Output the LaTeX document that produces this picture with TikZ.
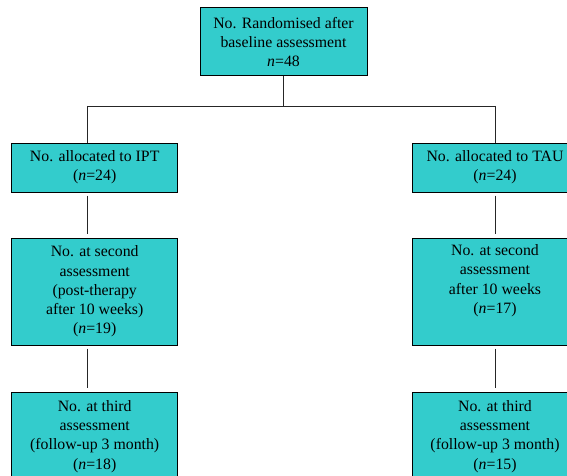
\documentclass[tikz,border=0pt]{standalone}
\usepackage{fontspec}
\setmainfont{Liberation Serif}
\definecolor{boxcyan}{RGB}{51,204,204}
\begin{document}
\begin{tikzpicture}[x=1pt,y=-1pt,
  box/.style={draw=black, line width=1pt, fill=boxcyan, inner sep=0pt, align=center,
    minimum width=166pt, font=\fontsize{15.8}{19.3}\selectfont},
  conn/.style={draw=black!85, line width=0.9pt}]
\useasboundingbox (0,0) rectangle (567,476);
\clip (0,0) rectangle (567,476);
% boxes
\node[box, minimum width=167pt, minimum height=68pt] (top) at (283.5,42)
  {No. Randomised after\\baseline assessment\\\textit{n}=48};
\node[box, minimum height=49pt] (ipt) at (94.7,167.5)
  {No. allocated to IPT\\(\textit{n}=24)};
\node[box, minimum height=49pt] (tau) at (495,167.5)
  {No. allocated to TAU\\(\textit{n}=24)};
\node[box, minimum height=107pt] (ipt2) at (94.7,291.5)
  {No. at second\\assessment\\(post-therapy\\after 10 weeks)\\(\textit{n}=19)};
\node[box, minimum height=107pt] (tau2) at (495,291.5)
  {No. at second\\assessment\\after 10 weeks\\(\textit{n}=17)\\\strut};
\node[box, minimum height=89pt] (ipt3) at (94.7,436.5)
  {No. at third\\assessment\\(follow-up 3 month)\\(\textit{n}=18)};
\node[box, minimum height=89pt] (tau3) at (495,436.5)
  {No. at third\\assessment\\(follow-up 3 month)\\(\textit{n}=15)};
% connectors
\coordinate (split) at (283.5,106);
\coordinate (lc) at (87,106);
\coordinate (rc) at (495,106);
\draw[conn] (top.south) -- (split);
\draw[conn] (lc) -- (rc);
\draw[conn] (lc) -- (lc |- ipt.north);
\draw[conn] (rc) -- (tau.north);
\draw[conn, shorten <=3pt, shorten >=4pt] (lc |- ipt.south) -- (lc |- ipt2.north);
\draw[conn, shorten <=3pt, shorten >=4pt] (lc |- ipt2.south) -- (lc |- ipt3.north);
\draw[conn, shorten <=3pt, shorten >=4pt] (tau.south) -- (tau2.north);
\draw[conn, shorten <=3pt, shorten >=4pt] (tau2.south) -- (tau3.north);
\end{tikzpicture}
\end{document}
